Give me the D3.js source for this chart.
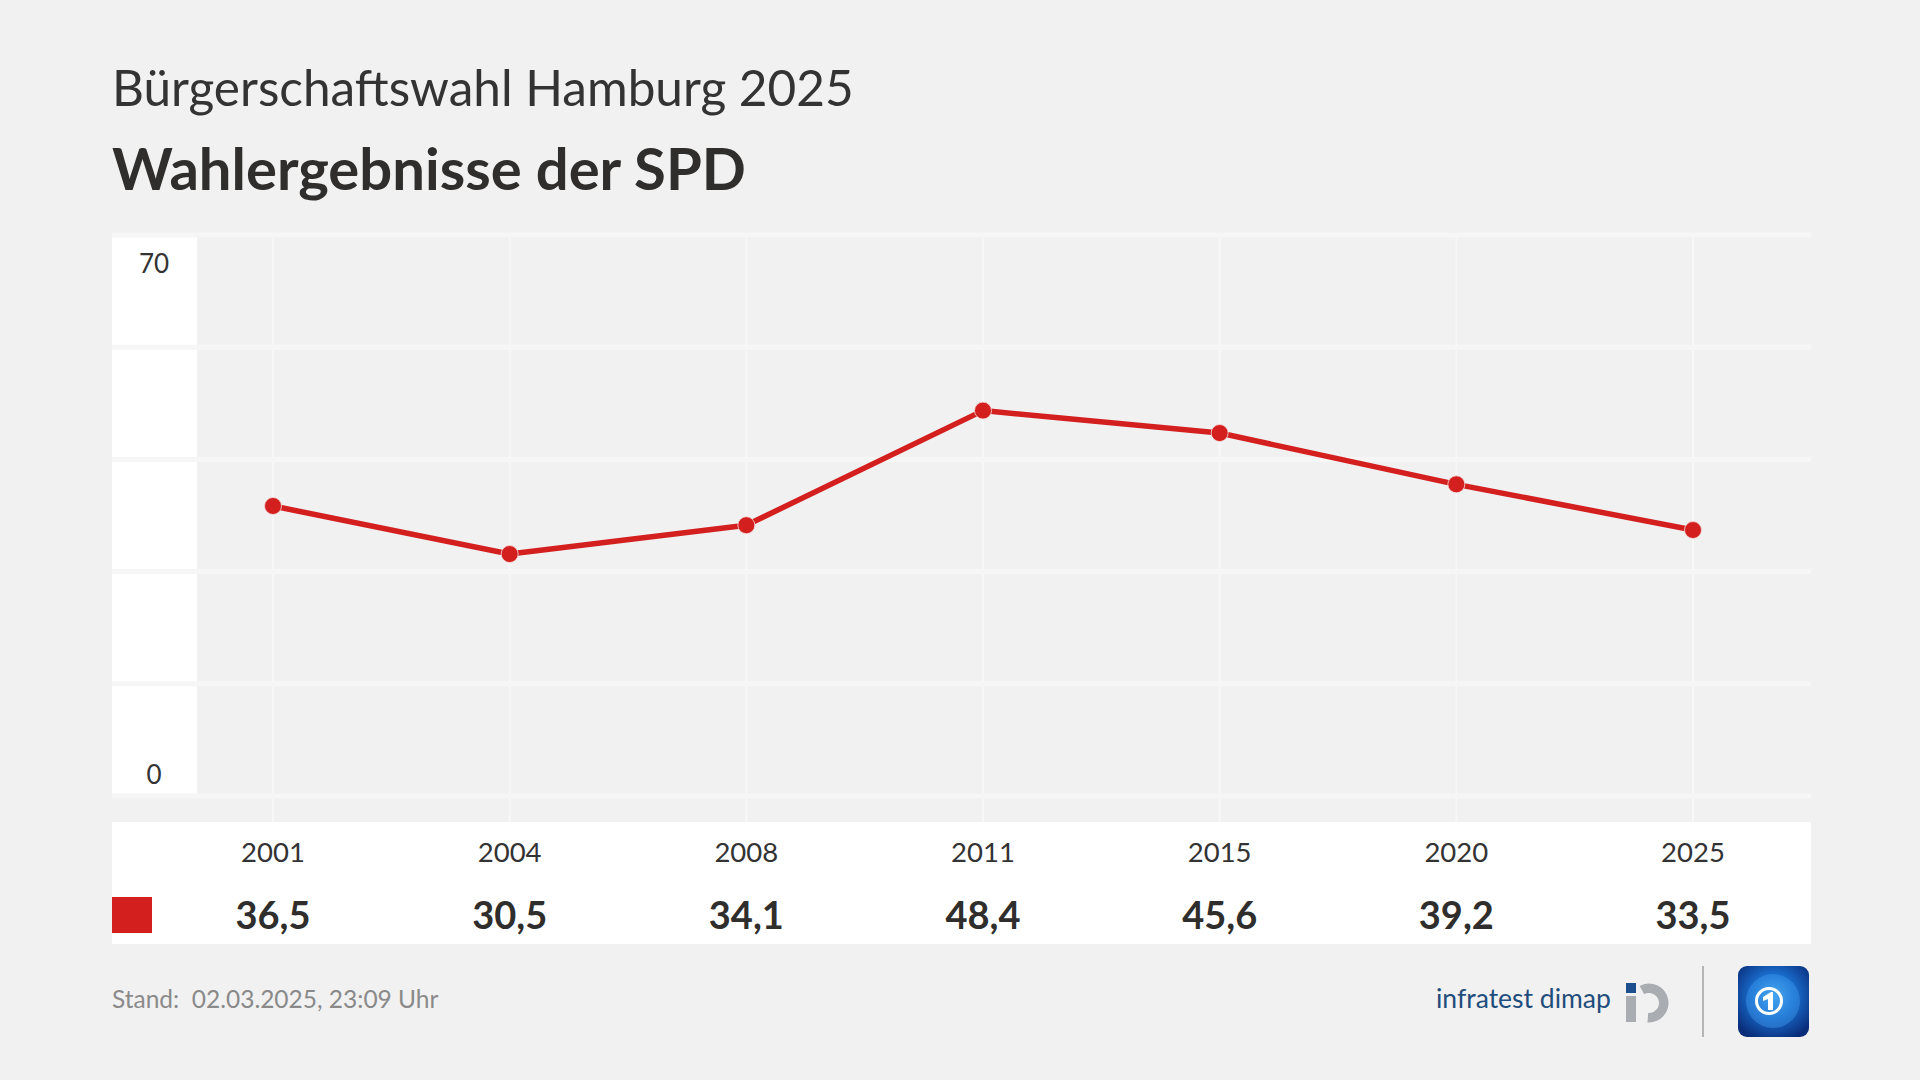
<!DOCTYPE html>
<html>
<head>
<meta charset="utf-8">
<script src="https://cdn.jsdelivr.net/npm/d3@7"></script>
<style>
  html, body { margin: 0; padding: 0; background: #f1f1f1; }
  svg { display: block; }
  text { font-family: Lato, "Open Sans", sans-serif; }
</style>
</head>
<body>
<svg id="chart" width="1920" height="1080"></svg>
<script>
// ---- data ----
const years = ["2001", "2004", "2008", "2011", "2015", "2020", "2025"];
const spdValues = [36.5, 30.5, 34.1, 48.4, 45.6, 39.2, 33.5];
const valueLabels = ["36,5", "30,5", "34,1", "48,4", "45,6", "39,2", "33,5"];
const yTicks = [0, 14, 28, 42, 56, 70];
const yTickLabels = ["0", "70"];
const subtitle = "Bürgerschaftswahl Hamburg 2025";
const title = "Wahlergebnisse der SPD";
const footer = "Stand:\u00a0\u00a002.03.2025, 23:09 Uhr";
const seriesColor = "#d41f1f";

const svg = d3.select("#chart");
svg.append("rect").attr("width", 1920).attr("height", 1080).attr("fill", "#f1f1f1");

// ---- titles ----
svg.append("text").attr("x", 112).attr("y", 106)
  .attr("font-size", 49.5).attr("font-weight", 400).attr("fill", "#333")
  .text(subtitle);
svg.append("text").attr("x", 112).attr("y", 190)
  .attr("font-size", 58).attr("font-weight", 700).attr("fill", "#2f2e2c")
  .text(title);

// ---- scales ----
const plotLeft = 112, plotRight = 1811, axisColRight = 197;
const x = d3.scalePoint().domain(years).range([273, 1693]);
const y = d3.scaleLinear().domain([0, 70]).range([798.5, 237.5]);

// y-axis white column
svg.append("rect").attr("x", plotLeft).attr("y", 235).attr("width", axisColRight - plotLeft)
  .attr("height", 561).attr("fill", "#ffffff");

// vertical gridlines
svg.append("g").selectAll("line").data(years).join("line")
  .attr("x1", d => x(d)).attr("x2", d => x(d))
  .attr("y1", 235).attr("y2", 822)
  .attr("stroke", "#f7f7f7").attr("stroke-width", 2);

// horizontal gridlines
svg.append("g").selectAll("line").data(yTicks).join("line")
  .attr("x1", plotLeft).attr("x2", plotRight)
  .attr("y1", d => y(d) - 2.5).attr("y2", d => y(d) - 2.5)
  .attr("stroke", "#f6f6f6").attr("stroke-width", 5);

// y labels
svg.append("text").attr("x", 154).attr("y", 273).attr("text-anchor", "middle")
  .attr("font-size", 26).attr("fill", "#333").text(yTickLabels[1]);
svg.append("text").attr("x", 154).attr("y", 784).attr("text-anchor", "middle")
  .attr("font-size", 26).attr("fill", "#333").text(yTickLabels[0]);

// line
const line = d3.line().x((d, i) => x(years[i])).y(d => y(d));
svg.append("path").datum(spdValues).attr("d", line)
  .attr("fill", "none").attr("stroke", seriesColor).attr("stroke-width", 5.5)
  .attr("stroke-linejoin", "round");
svg.append("g").selectAll("circle").data(spdValues).join("circle")
  .attr("cx", (d, i) => x(years[i])).attr("cy", d => y(d)).attr("r", 8.5)
  .attr("fill", seriesColor).attr("stroke", "#f4dede").attr("stroke-width", 0.8);

// ---- table ----
svg.append("rect").attr("x", plotLeft).attr("y", 822).attr("width", plotRight - plotLeft)
  .attr("height", 122).attr("fill", "#ffffff");
svg.append("g").selectAll("text").data(years).join("text")
  .attr("x", d => x(d)).attr("y", 862).attr("text-anchor", "middle")
  .attr("font-size", 27.5).attr("fill", "#333").text(d => d);
svg.append("g").selectAll("text").data(valueLabels).join("text")
  .attr("x", (d, i) => x(years[i])).attr("y", 929).attr("text-anchor", "middle")
  .attr("font-size", 38).attr("font-weight", 700).attr("fill", "#2f2e2c").text(d => d);
svg.append("rect").attr("x", 112).attr("y", 897).attr("width", 40).attr("height", 36)
  .attr("fill", seriesColor);

// ---- footer ----
svg.append("text").attr("x", 112).attr("y", 1008)
  .attr("font-size", 24.5).attr("fill", "#8a8a8a").text(footer);

svg.append("text").attr("x", 1436).attr("y", 1008)
  .attr("font-size", 26.5).attr("fill", "#1f4d7c").text("infratest dimap");

// iD logo
const idg = svg.append("g");
idg.append("rect").attr("x", 1626).attr("y", 983).attr("width", 10).attr("height", 10).attr("fill", "#1d4f8e");
idg.append("rect").attr("x", 1626).attr("y", 996).attr("width", 10).attr("height", 26).attr("fill", "#a9adb1");
idg.append("path")
  .attr("transform", "translate(1649,1003)")
  .attr("d", d3.arc()({innerRadius: 10, outerRadius: 19.5, startAngle: -0.5, endAngle: Math.PI + 0.08}))
  .attr("fill", "#a9adb1");

// divider
svg.append("line").attr("x1", 1703).attr("x2", 1703).attr("y1", 966).attr("y2", 1037)
  .attr("stroke", "#b5b5b5").attr("stroke-width", 2);

// tagesschau-like logo
const defs = svg.append("defs");
const rg = defs.append("radialGradient").attr("id", "tsg").attr("cx", "50%").attr("cy", "42%").attr("r", "65%");
rg.append("stop").attr("offset", "0%").attr("stop-color", "#4fb2f5");
rg.append("stop").attr("offset", "45%").attr("stop-color", "#1a6fd0");
rg.append("stop").attr("offset", "100%").attr("stop-color", "#0a2d7a");
const ts = svg.append("g");
ts.append("rect").attr("x", 1738).attr("y", 966).attr("width", 71).attr("height", 71).attr("rx", 9)
  .attr("fill", "url(#tsg)");
ts.append("circle").attr("cx", 1773).attr("cy", 1001).attr("r", 27).attr("fill", "#3c97e8").attr("opacity", 0.45);
ts.append("circle").attr("cx", 1769).attr("cy", 1001).attr("r", 12.5).attr("fill", "none")
  .attr("stroke", "#ffffff").attr("stroke-width", 3);
ts.append("path").attr("d", "M1763,997 L1771,992 L1773,992 L1773,1010 L1768,1010 L1768,999 L1763,1001 Z")
  .attr("fill", "#ffffff");
</script>
</body>
</html>
